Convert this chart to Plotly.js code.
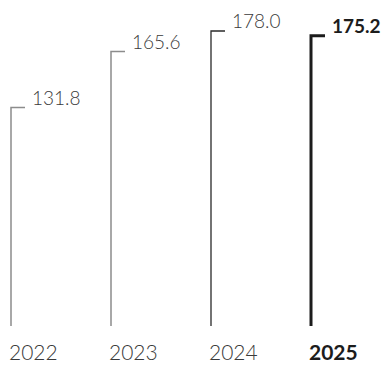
<!DOCTYPE html>
<html>
<head>
<meta charset="utf-8">
<script src="https://cdn.plot.ly/plotly-3.0.1.min.js"></script>
<style>
  html, body { margin: 0; padding: 0; background: #fff; }
  #chart { width: 387px; height: 367px; }
</style>
</head>
<body>
<div id="chart"></div>
<script>
// ---- data ----
const years = ['2022', '2023', '2024', '2025'];
const values = [131.8, 165.6, 178.0, 175.2];
const valueLabels = ['131.8', '165.6', '178.0', '175.2'];
const highlightYear = '2025';

// ---- styling (separate from data) ----
const FONT = 'Lato, "Open Sans", "DejaVu Sans", sans-serif';
function lineStyle(i) {
  if (years[i] === highlightYear) return { color: '#1c1c1c', width: 3 };
  if (i === 2) return { color: '#2a2a2a', width: 1.3 };
  return { color: '#8c8c8c', width: 1.5 };
}
const TICK_LEN = 0.14; // horizontal cap length in x units

const traces = years.map((yr, i) => ({
  type: 'scatter',
  mode: 'lines',
  x: [i, i, i + TICK_LEN],
  y: [0, values[i], values[i]],
  line: lineStyle(i),
  hoverinfo: 'skip',
  showlegend: false,
  cliponaxis: false
}));

const annotations = [];
years.forEach((yr, i) => {
  const bold = yr === highlightYear;
  annotations.push({
    xref: 'x', yref: 'y', x: i + TICK_LEN, y: values[i],
    xanchor: 'left', yanchor: 'bottom', xshift: 5, yshift: -3,
    text: bold ? '<b>' + valueLabels[i] + '</b>' : valueLabels[i],
    showarrow: false,
    font: { family: FONT, size: 19, color: bold ? '#1c1c1c' : '#3a3a3a', weight: bold ? 700 : 300 }
  });
  annotations.push({
    xref: 'x', yref: 'paper', x: i, y: 0,
    xanchor: 'left', yanchor: 'bottom', xshift: -4, yshift: 1,
    text: bold ? '<b>' + yr + '</b>' : yr,
    showarrow: false,
    font: { family: FONT, size: 21, color: bold ? '#1c1c1c' : '#3a3a3a', weight: bold ? 700 : 300 }
  });
});

const layout = {
  width: 387, height: 367,
  margin: { l: 0, r: 0, t: 0, b: 0, pad: 0 },
  paper_bgcolor: '#ffffff', plot_bgcolor: '#ffffff',
  xaxis: { range: [-0.11, 3.76], visible: false, fixedrange: true },
  yaxis: { range: [-24.7, 196.7], visible: false, fixedrange: true },
  annotations: annotations,
  showlegend: false
};

Plotly.newPlot('chart', traces, layout, { staticPlot: true, displayModeBar: false });
</script>
</body>
</html>
